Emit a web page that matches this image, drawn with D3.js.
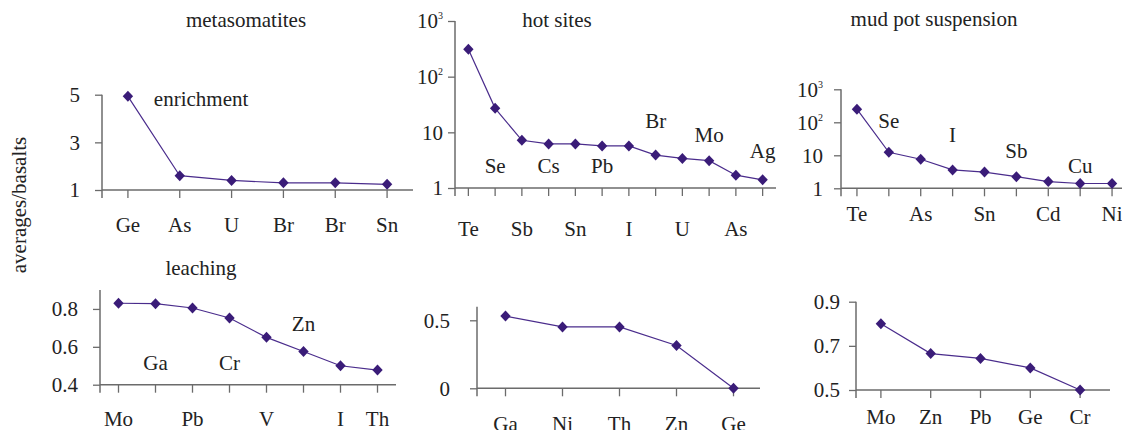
<!DOCTYPE html>
<html><head><meta charset="utf-8">
<script src="https://cdn.jsdelivr.net/npm/d3@7"></script>
<style>
body{margin:0;background:#fff;}
</style></head><body>
<svg id="c" width="1122" height="430"></svg>
<script>
// ---------- data ----------
const metaCats = ["Ge","As","U","Br","Br","Sn"];
const metaVals = [4.93,1.6,1.4,1.3,1.3,1.24];
const metaTicks = [1,3,5];
const metaAnnot = [null,null,null,null,null,null];

const hotCats = ["Te","Se","Sb","Cs","Sn","Pb","I","Br","U","Mo","As","Ag"];
const hotVals = [310,27,7.2,6.2,6.2,5.7,5.7,3.9,3.4,3.1,1.7,1.4];
const hotTicks = [1,10,100,1000];
const hotAnnot = [null,1.85,null,1.85,null,1.85,null,12,null,6.7,null,3.5];

const mudCats = ["Te","Se","As","I","Sn","Sb","Cd","Cu","Ni"];
const mudVals = [250,12.3,7.6,3.6,3.1,2.25,1.6,1.4,1.4];
const mudTicks = [1,10,100,1000];
const mudAnnot = [null,68,null,24.7,null,8.1,null,2.85,null];

const leachCats = ["Mo","Ga","Pb","Cr","V","Zn","I","Th"];
const leachVals = [0.83,0.828,0.805,0.752,0.65,0.575,0.50,0.477];
const leachTicks = [0.4,0.6,0.8];
const leachAnnot = [null,0.478,null,0.478,null,0.681,null,null];

const midCats = ["Ga","Ni","Th","Zn","Ge"];
const midVals = [0.531,0.451,0.451,0.315,0];
const midTicks = [0,0.5];
const midAnnot = [null,null,null,null,null];

const rightCats = ["Mo","Zn","Pb","Ge","Cr"];
const rightVals = [0.80,0.665,0.643,0.60,0.50];
const rightTicks = [0.5,0.7,0.9];
const rightAnnot = [null,null,null,null,null];

// ---------- drawing ----------
const svg = d3.select("#c");
const AX = "#6b6b6b", LINE = "#4a2c8c", MARK = "#3a1c78", FS = 21, TXT = "#222";
const supMap = {100:"2",1000:"3"};

function txt(g){
  return g.append("text").style("font-family",'"Liberation Serif"').style("font-size",FS+"px").attr("fill",TXT);
}

function panel(c){
  const g = svg.append("g");
  const n = c.cats.length;
  const x = d3.scaleBand().domain(d3.range(n)).range([c.x0, c.x1]);
  const cx = i => x(i) + x.bandwidth()/2;
  const y = (c.log ? d3.scaleLog() : d3.scaleLinear()).domain(c.domain).range([c.yb, c.yt]);

  const xa = g.append("g").attr("transform",`translate(0,${c.yb})`)
    .call(d3.axisBottom(x).tickSize(8).tickSizeOuter(0).tickFormat(""));
  xa.select(".domain").remove();
  xa.selectAll("line").attr("stroke",AX).attr("stroke-width",1.3);
  const ya = g.append("g").attr("transform",`translate(${c.x0},0)`)
    .call(d3.axisLeft(y).tickValues(c.ticks).tickSize(7).tickFormat(""));
  ya.select(".domain").remove();
  ya.selectAll("line").attr("stroke",AX).attr("stroke-width",1.3);
  g.append("line").attr("x1",c.x0).attr("x2",c.xEnd).attr("y1",c.yb).attr("y2",c.yb)
    .attr("stroke",AX).attr("stroke-width",1.5);
  g.append("line").attr("x1",c.x0).attr("x2",c.x0).attr("y1",y(c.domain[1])).attr("y2",c.yb+8)
    .attr("stroke",AX).attr("stroke-width",1.5);

  c.ticks.forEach(t=>{
    const tx = txt(g).attr("x",c.x0-c.gap).attr("y",y(t)).attr("dy","0.35em").attr("text-anchor","end");
    if(c.log && supMap[t]){
      tx.append("tspan").text("10");
      tx.append("tspan").style("font-size","10px").attr("dy","-0.9em").text(supMap[t]);
    } else tx.text(c.log ? String(t) : (Number.isInteger(t)&&c.intFmt ? String(t) : d3.format(c.fmt)(t)));
  });

  c.cats.forEach((s,i)=>{
    const yy = c.annot[i]==null ? c.yb + c.lab : y(c.annot[i]);
    txt(g).attr("x",cx(i)).attr("y",yy).attr("text-anchor","middle").text(s);
  });

  const line = d3.line().x((d,i)=>cx(i)).y(d=>y(d));
  g.append("path").datum(c.vals).attr("d",line).attr("fill","none")
    .attr("stroke",LINE).attr("stroke-width",1.2);
  g.selectAll(".m").data(c.vals).enter().append("path")
    .attr("d","M0,-5.5L5.2,0L0,5.5L-5.2,0Z")
    .attr("transform",(d,i)=>`translate(${cx(i)},${y(d)})`)
    .attr("fill",MARK);
  return {g,x,y,cx};
}

const p1 = panel({cats:metaCats,vals:metaVals,ticks:metaTicks,annot:metaAnnot,domain:[1,5],
  x0:102,x1:413,xEnd:413,yb:190,yt:94.7,gap:22,lab:42,fmt:"d",intFmt:true});
const p2 = panel({cats:hotCats,vals:hotVals,ticks:hotTicks,annot:hotAnnot,domain:[1,1000],log:true,
  x0:455,x1:776,xEnd:776,yb:188,yt:21,gap:12,lab:48});
const p3 = panel({cats:mudCats,vals:mudVals,ticks:mudTicks,annot:mudAnnot,domain:[1,1000],log:true,
  x0:841,x1:1128,xEnd:1128,yb:188.3,yt:89.3,gap:18,lab:33});
const p4 = panel({cats:leachCats,vals:leachVals,ticks:leachTicks,annot:leachAnnot,domain:[0.4,0.9],
  x0:100,x1:396,xEnd:396,yb:384.7,yt:290,gap:22,lab:41,fmt:".1f"});
const p5 = panel({cats:midCats,vals:midVals,ticks:midTicks,annot:midAnnot,domain:[0,0.6],
  x0:477,x1:762,xEnd:760,yb:388.3,yt:306.7,gap:27,lab:43,fmt:".1f",intFmt:true});
const p6 = panel({cats:rightCats,vals:rightVals,ticks:rightTicks,annot:rightAnnot,domain:[0.5,0.9],
  x0:856,x1:1105,xEnd:1110,yb:390,yt:301.7,gap:16,lab:34,fmt:".1f"});

const T = (x,y,s,anchor)=>txt(svg).attr("x",x).attr("y",y).attr("text-anchor",anchor||"middle").text(s);
T(246,27,"metasomatites");
T(557,27,"hot sites");
T(934,26,"mud pot suspension");
T(201,275,"leaching");
T(p1.x(1),106,"enrichment","start");
txt(svg).attr("transform","translate(26,205) rotate(-90)").attr("text-anchor","middle").text("averages/basalts");
</script>
</body></html>
